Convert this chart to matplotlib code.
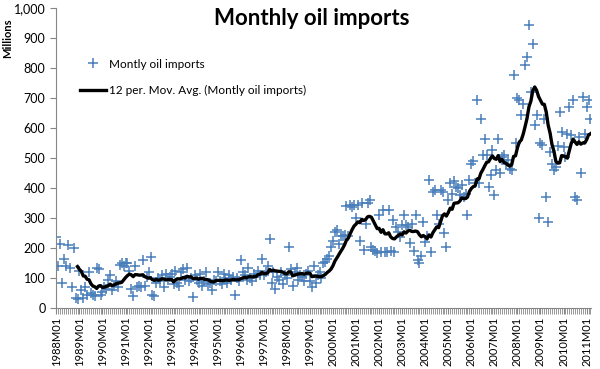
import matplotlib
matplotlib.use("Agg")
import matplotlib.pyplot as plt
from matplotlib.ticker import FuncFormatter, MultipleLocator
import numpy as np
import pandas as pd

plt.rcParams['font.family'] = ['Lato', 'DejaVu Sans']

# monthly oil imports (millions), Jan..Dec
y1988 = [238, 140, 215, 85, 165, 140, 210, 135, 70, 200, 33, 30]
y1989 = [125, 60, 35, 70, 45, 120, 50, 45, 40, 135, 130, 45]
y1990 = [55, 70, 65, 95, 110, 60, 75, 90, 70, 145, 150, 140]
y1991 = [150, 150, 125, 65, 40, 140, 70, 75, 70, 160, 75, 105]
y1992 = [120, 170, 45, 40, 85, 100, 90, 110, 70, 115, 95, 105]
y1993 = [115, 80, 125, 85, 75, 120, 130, 95, 135, 90, 100, 38]
y1994 = [110, 95, 85, 115, 75, 90, 120, 80, 85, 60, 95, 90]
y1995 = [120, 90, 80, 115, 100, 85, 110, 95, 105, 45, 100, 90]
y1996 = [160, 120, 110, 95, 135, 100, 90, 115, 105, 125, 110, 165]
y1997 = [110, 120, 140, 230, 85, 120, 65, 105, 95, 120, 80, 110]
y1998 = [100, 205, 130, 75, 120, 135, 95, 110, 105, 90, 115, 125]
y1999 = [90, 70, 140, 85, 110, 120, 100, 150, 155, 165, 175, 205]
y2000 = [225, 255, 260, 215, 240, 240, 245, 340, 240, 345, 338, 343]
y2001 = [300, 345, 225, 350, 195, 280, 350, 360, 205, 195, 190, 185]
y2002 = [310, 188, 327, 188, 188, 327, 190, 293, 188, 271, 255, 238]
y2003 = [277, 310, 277, 271, 216, 280, 190, 310, 160, 150, 175, 288]
y2004 = [221, 240, 427, 188, 388, 393, 310, 282, 393, 388, 249, 204]
y2005 = [360, 416, 382, 425, 404, 399, 377, 410, 371, 382, 310, 427]
y2006 = [482, 490, 416, 693, 416, 632, 510, 565, 510, 404, 443, 527]
y2007 = [377, 460, 565, 449, 504, 510, 482, 493, 465, 460, 777, 549]
y2008 = [699, 693, 643, 682, 810, 838, 943, 720, 882, 610, 643, 299]
y2009 = [549, 543, 632, 371, 288, 521, 482, 460, 471, 540, 654, 588]
y2010 = [538, 504, 582, 671, 577, 693, 371, 360, 571, 449, 704, 582]
y2011 = [671, 693, 632]

years = [y1988, y1989, y1990, y1991, y1992, y1993, y1994, y1995, y1996,
         y1997, y1998, y1999, y2000, y2001, y2002, y2003, y2004, y2005,
         y2006, y2007, y2008, y2009, y2010, y2011]
imports = pd.Series([v for yr in years for v in yr], dtype=float)
mov_avg = imports.rolling(12).mean()   # Excel "12 per. Mov. Avg." trendline

x = np.arange(len(imports))
tick_pos = np.arange(0, len(imports), 12)
tick_labels = [f"{1988 + i}M01" for i in range(len(tick_pos))]

fig = plt.figure(figsize=(6.0, 3.69), dpi=100)
ax = fig.add_axes([0.093, 0.165, 0.892, 0.813])

ax.plot(x, imports, linestyle="none", marker="+", markersize=7,
        markeredgewidth=1.1, color="#4a7ebb", label="Montly oil imports")
ax.plot(x, mov_avg, color="black", linewidth=2.4,
        label="12 per. Mov. Avg. (Montly oil imports)")

ax.set_xlim(-0.3, len(imports) - 0.7)
ax.set_ylim(0, 1000)
ax.yaxis.set_major_locator(MultipleLocator(100))
ax.yaxis.set_major_formatter(FuncFormatter(lambda v, p: f"{int(v):,}"))
ax.set_xticks(tick_pos)
ax.set_xticklabels(tick_labels, rotation=90, fontsize=8)
ax.set_xticks(x, minor=True)
ax.tick_params(axis="y", labelsize=9, length=4, color="#868686", direction="out")
ax.tick_params(axis="x", which="both", length=4, color="#868686", direction="out", pad=2)

for s in ("top", "right"):
    ax.spines[s].set_visible(False)
for s in ("left", "bottom"):
    ax.spines[s].set_color("#868686")

fig.text(0.52, 0.95, "Monthly oil imports", ha="center", va="center",
         fontsize=16, fontweight="bold")
fig.text(0.012, 1 - 38 / 369, "Millions", rotation=90, ha="center", va="center",
         fontsize=8, fontweight="bold")

ax.legend(loc="upper left", bbox_to_anchor=(0.115, 0.87), bbox_transform=fig.transFigure,
          frameon=False, fontsize=8.5, handlelength=2.2, handletextpad=0.3,
          labelspacing=1.3)

fig.savefig("out.png", dpi=100)
